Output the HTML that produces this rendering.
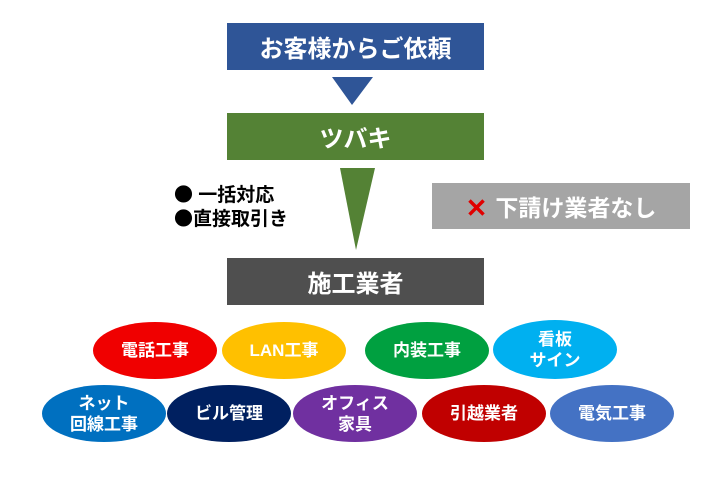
<!DOCTYPE html>
<html><head><meta charset="utf-8"><style>
html,body{margin:0;padding:0;background:#fff;}
body{width:720px;height:484px;position:relative;overflow:hidden;font-family:"Liberation Sans","Noto Sans CJK JP",sans-serif;}
.box{position:absolute;left:227px;width:257px;height:47px;color:#fff;font-size:24px;font-weight:bold;display:flex;align-items:center;justify-content:center;}
.el{position:absolute;border-radius:50%;color:#fff;font-size:17px;font-weight:bold;display:flex;align-items:center;justify-content:center;text-align:center;line-height:21px;width:124px;height:57px;}
.b{font-family:"Noto Sans CJK JP",sans-serif;}
</style></head><body>
<div class="box" style="top:23px;background:#2f5597;">お客様からご依頼</div>
<div class="box" style="top:113px;background:#548235;">ツバキ</div>
<div class="box" style="top:258px;background:#4f4f4f;">施工業者</div>
<svg width="720" height="484" style="position:absolute;left:0;top:0">
<polygon points="332,77 373,77 352,105" fill="#2f5597"/>
<polygon points="340,168 375,168 356,250" fill="#548235"/>
</svg>
<div style="position:absolute;left:174px;top:183px;font-size:19px;font-weight:bold;line-height:22px;color:#000;"><span class="b">●</span> 一括対応<br><span class="b">●</span>直接取引き</div>
<div style="position:absolute;left:432px;top:183px;width:258px;height:46px;background:#a5a5a5;color:#fff;font-size:23px;font-weight:bold;display:flex;align-items:center;justify-content:center;"><span style="color:#e00000;margin-right:8px;font-size:26px;" class="b">✕</span>下請け業者なし</div>
<div class="el" style="left:93px;top:322px;background:#f00000;">電話工事</div>
<div class="el" style="left:222px;top:322px;background:#ffc000;">LAN工事</div>
<div class="el" style="left:365px;top:322px;background:#00a040;">内装工事</div>
<div class="el" style="left:493px;top:320px;background:#00b0f0;height:59px;">看板<br>サイン</div>
<div class="el" style="left:42px;top:385px;background:#0070c0;">ネット<br>回線工事</div>
<div class="el" style="left:167px;top:385px;background:#002060;">ビル管理</div>
<div class="el" style="left:293px;top:385px;background:#7030a0;">オフィス<br>家具</div>
<div class="el" style="left:422px;top:385px;background:#c00000;">引越業者</div>
<div class="el" style="left:550px;top:385px;background:#4472c4;">電気工事</div>
</body></html>
